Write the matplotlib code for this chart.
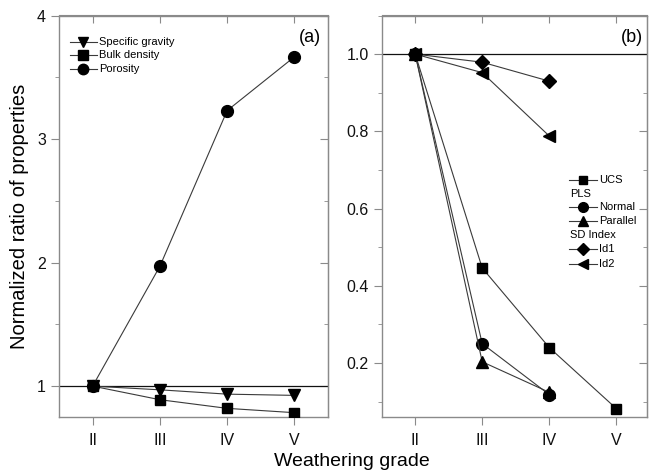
import matplotlib
matplotlib.use("Agg")
import matplotlib.pyplot as plt
from matplotlib.lines import Line2D
from matplotlib.ticker import MultipleLocator

plt.rcParams['font.family'] = ['Liberation Sans', 'DejaVu Sans']

grades = ["II", "III", "IV", "V"]
xpos = [1, 2, 3, 4]

# Panel (a)
specific_gravity = [1.0, 0.97, 0.935, 0.925]
bulk_density = [1.0, 0.89, 0.82, 0.785]
porosity = [1.0, 1.97, 3.23, 3.665]

# Panel (b)
ucs = [1.0, 0.446, 0.24, 0.082]
pls_normal = [1.0, 0.25, 0.118]
pls_parallel = [1.0, 0.203, 0.124]
id1 = [1.0, 0.979, 0.93]
id2 = [1.0, 0.952, 0.788]

W, H = 649, 475
fig = plt.figure(figsize=(W / 100, H / 100), dpi=100)

def px_rect(l, t, r, b):
    return [l / W, 1 - b / H, (r - l) / W, (b - t) / H]

axa = fig.add_axes(px_rect(59, 15.5, 328, 417))
axb = fig.add_axes(px_rect(381.7, 15.5, 646.7, 417))

spine_c = '#8a8a8a'
line_c = '#3a3a3a'
lw = 0.8
MAJ, MIN = 5.8, 3.0

def style(ax):
    for s in ax.spines.values():
        s.set_color(spine_c)
        s.set_linewidth(1.0)
    ax.tick_params(axis='both', which='both', colors=spine_c, labelcolor='#111111',
                   labelsize=11.5)
    ax.tick_params(axis='x', which='major', bottom=True, top=False, direction='out', length=MAJ)
    ax.tick_params(axis='y', which='major', left=True, right=False, direction='out', length=MAJ)
    ax.tick_params(axis='y', which='minor', left=True, right=False, direction='out', length=MIN)
    ax.set_xticks(xpos)
    ax.set_xticklabels(grades)
    ax.tick_params(axis='x', pad=6)

def twin_ticks(ax, major, minor):
    sx = ax.secondary_xaxis('top')
    sx.set_xticks(xpos)
    sx.set_xticklabels([])
    sx.tick_params(direction='in', length=MAJ, colors=spine_c)
    sx.spines['top'].set_color(spine_c)
    sy = ax.secondary_yaxis('right')
    sy.set_yticks(major)
    sy.set_yticklabels([])
    sy.set_yticks(minor, minor=True)
    sy.tick_params(which='major', direction='in', length=MAJ, colors=spine_c)
    sy.tick_params(which='minor', direction='in', length=MIN, colors=spine_c)
    sy.spines['right'].set_color(spine_c)

# ---- Panel (a)
style(axa)
axa.set_xlim(0.5, 4.5)
axa.set_ylim(0.75, 4.0)
axa.set_yticks([1, 2, 3, 4])
axa.yaxis.set_minor_locator(MultipleLocator(0.5))
twin_ticks(axa, [1, 2, 3, 4], [1.5, 2.5, 3.5])
axa.axhline(1.0, color='#111111', lw=0.9, zorder=1)

axa.plot(xpos, specific_gravity, color=line_c, lw=lw, marker='v', ms=9, mfc='black', mec='black', zorder=3)
axa.plot(xpos, bulk_density, color=line_c, lw=lw, marker='s', ms=7.5, mfc='black', mec='black', zorder=3)
axa.plot(xpos, porosity, color=line_c, lw=lw, marker='o', ms=8.5, mfc='black', mec='black', zorder=3)
axa.text(0.975, 0.945, "(a)", transform=axa.transAxes, ha='right', va='center', fontsize=13)

# ---- Panel (b)
style(axb)
axb.set_xlim(0.5, 4.455)
axb.set_ylim(0.06, 1.10)
axb.set_yticks([0.2, 0.4, 0.6, 0.8, 1.0])
axb.set_yticklabels(["0.2", "0.4", "0.6", "0.8", "1.0"])
axb.yaxis.set_minor_locator(MultipleLocator(0.1))
twin_ticks(axb, [0.2, 0.4, 0.6, 0.8, 1.0], [0.1, 0.3, 0.5, 0.7, 0.9])
axb.axhline(1.0, color='#111111', lw=0.9, zorder=1)

axb.plot(xpos, ucs, color=line_c, lw=lw, marker='s', ms=7.5, mfc='black', mec='black', zorder=3)
axb.plot(xpos[:3], pls_normal, color=line_c, lw=lw, marker='o', ms=8.5, mfc='black', mec='black', zorder=3)
axb.plot(xpos[:3], pls_parallel, color=line_c, lw=lw, marker='^', ms=9, mfc='black', mec='black', zorder=3)
axb.plot(xpos[:3], id1, color=line_c, lw=lw, marker='D', ms=7.5, mfc='black', mec='black', zorder=3)
axb.plot(xpos[:3], id2, color=line_c, lw=lw, marker='<', ms=9, mfc='black', mec='black', zorder=3)
axb.text(0.985, 0.945, "(b)", transform=axb.transAxes, ha='right', va='center', fontsize=13)

# ---- manual legends (figure pixel coords)
def fig_xy(x, y):
    return x / W, 1 - y / H

def legend_row(x0, x1, y, marker, ms, label, xt):
    xa, ya = fig_xy(x0, y)
    xb, _ = fig_xy(x1, y)
    fig.add_artist(Line2D([xa, xb], [ya, ya], transform=fig.transFigure, color=line_c, lw=lw))
    xm, _ = fig_xy((x0 + x1) / 2, y)
    fig.add_artist(Line2D([xm], [ya], transform=fig.transFigure, marker=marker, ms=ms,
                          mfc='black', mec='black', lw=0))
    tx, _ = fig_xy(xt, y)
    fig.text(tx, ya, label, ha='left', va='center', fontsize=8)

legend_row(70, 96.7, 41.7, 'v', 7.5, "Specific gravity", 99.3)
legend_row(70, 96.7, 55.0, 's', 6.5, "Bulk density", 99.3)
legend_row(70, 96.7, 69.0, 'o', 7.5, "Porosity", 99.3)

lx0, lx1, ltx = 569.3, 596.7, 598.7
legend_row(lx0, lx1, 180.0, 's', 6, "UCS", ltx)
fig.text(*fig_xy(570.5, 193.7), "PLS", ha='left', va='center', fontsize=8)
legend_row(lx0, lx1, 207.0, 'o', 7, "Normal", ltx)
legend_row(lx0, lx1, 221.0, '^', 7, "Parallel", ltx)
fig.text(*fig_xy(570.5, 235.3), "SD Index", ha='left', va='center', fontsize=8)
legend_row(lx0, lx1, 249.3, 'D', 6, "Id1", ltx)
legend_row(lx0, lx1, 264.0, '<', 7, "Id2", ltx)

# axis labels
fig.text(*fig_xy(20, 216), "Normalized ratio of properties", rotation=90,
         ha='center', va='center', fontsize=14.5)
fig.text(*fig_xy(352, 462), "Weathering grade", ha='center', va='center', fontsize=14)

fig.savefig("out.png", dpi=100)
